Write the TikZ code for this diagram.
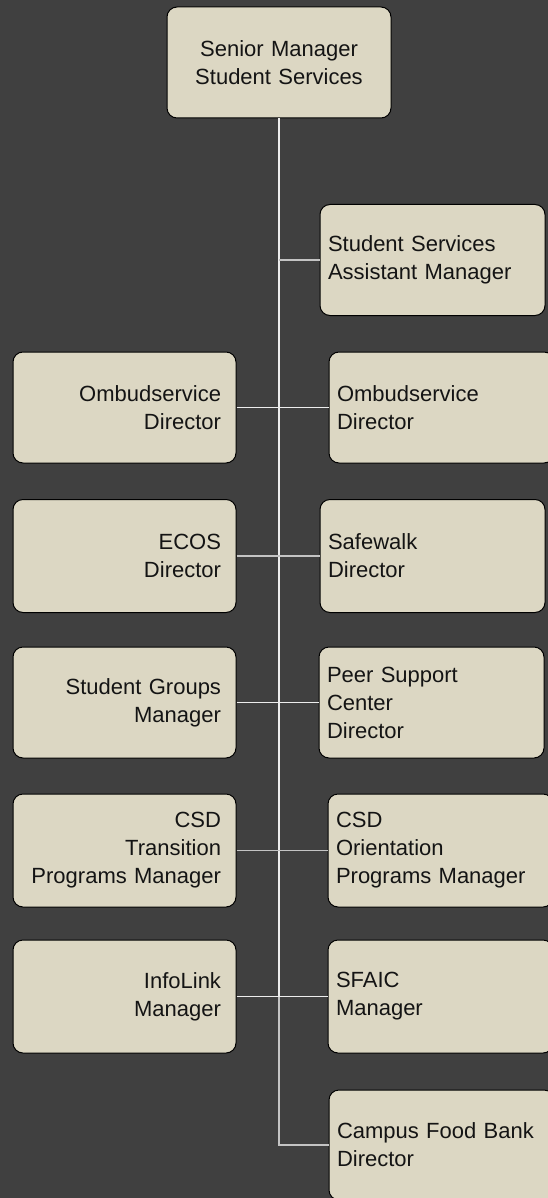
\documentclass[tikz,border=0pt]{standalone}
\usepackage{fontspec}
\setmainfont{Liberation Sans}
\definecolor{bgcol}{HTML}{404040}
\definecolor{boxfill}{HTML}{DCD7C3}
\definecolor{linew}{HTML}{EDEDED}
\definecolor{lineg}{HTML}{C4C4C4}
\definecolor{txt}{HTML}{141414}
\tikzset{
  orgbox/.style={rectangle, rounded corners=10pt, fill=boxfill, draw=black, line width=1pt,
    minimum height=111pt, text=txt, font=\fontsize{22}{28}\selectfont, inner ysep=4pt},
  topbox/.style={orgbox, text width=208pt, inner xsep=8pt, align=center},
  leftbox/.style={orgbox, text width=193pt, inner xsep=15pt, align=right},
  rightbox/.style={orgbox, text width=209pt, inner xsep=8pt, align=left},
  conw/.style={draw=linew, line width=1.1pt},
  cong/.style={draw=lineg, line width=1.1pt}
}
\begin{document}
\begin{tikzpicture}[x=1pt,y=-1pt]
\useasboundingbox (0,0) rectangle (548,1198);
\fill[bgcol] (0,0) rectangle (548,1198);
\clip (0,0) rectangle (548,1198);

% nodes
\node[topbox] (top) at (279,62.5) {Senior Manager\\Student Services};
\node[rightbox] (asst) at (432.5,260) {Student Services\\Assistant Manager};

\node[leftbox] (l1) at (124.5,407.5) {Ombudservice\\Director};
\node[rightbox] (r1) at (441.5,407.5) {Ombudservice\\Director};

\node[leftbox, minimum height=113pt] (l2) at (124.5,556) {ECOS\\Director};
\node[rightbox, minimum height=113pt] (r2) at (432.5,556) {Safewalk\\Director};

\node[leftbox] (l3) at (124.5,702.5) {Student Groups\\Manager};
\node[rightbox] (r3) at (431.5,702.5) {Peer Support\\Center\\Director};

\node[leftbox, minimum height=113pt] (l4) at (124.5,850.5) {CSD\\Transition\\Programs Manager};
\node[rightbox, minimum height=113pt] (r4) at (440.5,850.5) {CSD\\Orientation\\Programs Manager};

\node[leftbox, minimum height=113pt] (l5) at (124.5,996.5) {InfoLink\\Manager};
\node[rightbox, minimum height=113pt] (r5) at (440.5,996.5) {SFAIC\\Manager};

\node[rightbox, minimum height=110pt] (r6) at (441.5,1145) {Campus Food Bank\\Director};

% connectors
\coordinate (vbot) at (top.south |- r6.west);
\coordinate (vmid) at (top.south |- l5.east);
\path[conw] (top.south) -- (vmid);
\path[cong] (vmid) -- (vbot) -- (r6.west);
\path[cong] (top.south |- asst.west) -- (asst.west);
\path[conw] (l1.east) -- (r1.west);
\path[cong] (l2.east) -- (r2.west);
\path[conw] (l3.east) -- (r3.west);
\path[cong] (l4.east) -- (r4.west);
\path[conw] (l5.east) -- (r5.west);
\end{tikzpicture}
\end{document}
